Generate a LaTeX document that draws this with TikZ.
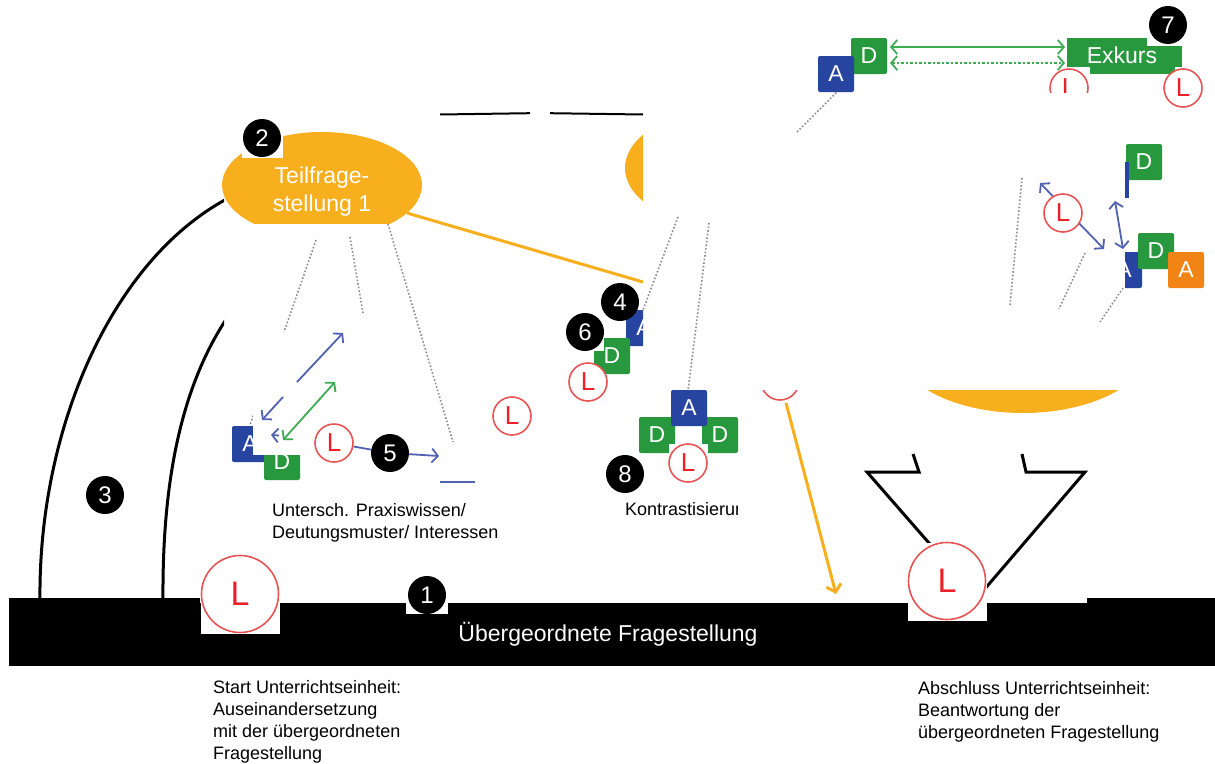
\documentclass[tikz,border=0pt]{standalone}
\usepackage{fontspec}
\setmainfont{Liberation Sans}
\usetikzlibrary{arrows.meta}
\definecolor{orF}{RGB}{247,175,30}
\definecolor{blueB}{RGB}{38,68,160}
\definecolor{greenB}{RGB}{40,152,62}
\definecolor{orB}{RGB}{242,132,22}
\definecolor{blueA}{RGB}{82,98,178}
\definecolor{greenA}{RGB}{62,172,82}
\definecolor{Lring}{RGB}{232,84,84}
\definecolor{Lred}{RGB}{236,32,40}
\definecolor{dotG}{RGB}{140,140,140}
\begin{document}
\begin{tikzpicture}[x=1pt,y=-1pt,
 badge/.style={circle,fill=black,text=white,minimum size=38pt,inner sep=0pt,font=\fontsize{24}{24}\selectfont},
 lcirc/.style={circle,draw=Lring,line width=1.6pt,fill=white,text=Lred,minimum size=38pt,inner sep=0pt,font=\fontsize{26}{26}\selectfont},
 bigl/.style={lcirc,minimum size=77pt,font=\fontsize{34}{34}\selectfont},
 sq/.style={rectangle,rounded corners=2pt,text=white,minimum size=36pt,inner sep=0pt,font=\fontsize{23}{23}\selectfont},
 boxA/.style={sq,fill=blueB}, boxD/.style={sq,fill=greenB}, boxO/.style={sq,fill=orB},
 dots/.style={dotG,line width=1.6pt,dash pattern=on 1.6pt off 2pt},
 barr/.style={blueA,line width=1.8pt},
 garr/.style={greenA,line width=1.8pt},
 oarr/.style={orF,line width=3pt},
 outl/.style={black,line width=3pt,line join=miter},
 txt/.style={font=\fontsize{18}{22}\selectfont,align=left,inner sep=0pt},
 >={Straight Barb[length=6pt,width=14pt]}]
\useasboundingbox (0,0) rectangle (1215,763);
\fill[white] (0,0) rectangle (1215,763);

% left leg of the arch
\begin{scope}
\clip (0,0) rectangle (224,610);
\draw[outl,fill=white] (40,600) .. controls (38,420) and (120,240) .. (250,188)
  -- (240,300) .. controls (185,370) and (162,470) .. (163,600) -- cycle;
\end{scope}
% top fragments of the arch
\draw[black,line width=2pt] (440,114.5) -- (530,113.2);
\draw[black,line width=2pt] (550,113.2) -- (643,114.5);

% Teilfragestellung 1
\begin{scope}
\clip (0,0) rectangle (1215,223);
\fill[orF] (322,185) ellipse [x radius=100, y radius=53];
\end{scope}
\node[text=white,align=center,font=\fontsize{23}{28}\selectfont] (t1) at (322,192) {Teilfrage-\\stellung 1};
% second ellipse (hidden part)
\begin{scope}
\clip (0,0) rectangle (643,400);
\fill[orF] (725,168) ellipse [x radius=100, y radius=58];
\end{scope}
\coordinate (o1s) at (407,213);
\coordinate (o1e) at (643,282);
\draw[oarr] (o1s) -- (o1e);
% big ellipse bottom
\begin{scope}
\clip (0,390) rectangle (1215,430);
\fill[orF] (1023,342) ellipse [x radius=130, y radius=71];
\end{scope}
% down arrow head
\draw[outl] (913,454) -- (919,472) -- (867,472) -- (977,598) -- (1085,472) -- (1026,472) -- (1022,454);

% black bar
\fill[black] (9,603) rectangle (1215,666);
\fill[black] (9,598) rectangle (200,604);
\fill[black] (1087,598) rectangle (1215,604);
\node[anchor=base,text=white,font=\fontsize{23}{23}\selectfont] (ueb) at (608,641) {Übergeordnete Fragestellung};

% big L circles
\fill[white] (201,556) rectangle (280,634);
\node[bigl] (L1) at (240,594) {L};
\fill[white] (908,543) rectangle (987,621);
\node[bigl] (L2) at (947,581) {L};
\fill[white] (406,576) rectangle (448,614);
\node[badge] (b1) at (427,595) {1};
\fill[white] (242,118) rectangle (283,158);
\node[badge] (b2) at (262,138) {2};
\node[badge] (b3) at (105,495) {3};

% dotted lines
\draw[dots] (316,240) -- (284,332);
\draw[dots] (350,237) -- (363,313);
\draw[dots] (388,224) -- (453,442);
\draw[dots] (258,402) -- (250,425);
\draw[dots] (678,217) -- (643,310);
\draw[dots] (709,223) -- (688,391);
\draw[dots] (797,132) -- (837,92);
\draw[dots] (1022,178) -- (1010,305);
\draw[dots] (1085,253) -- (1059,309);
\draw[dots] (1123,288) -- (1100,322);

% left group
\node[boxA] (a1) at (250,444) {A};
\node[boxD] (d1) at (282,462) {D};
\fill[white] (253,395) rectangle (310,455);
\coordinate (bA1) at (297,382); \coordinate (bA2) at (343,333);
\coordinate (bB1) at (283,397); \coordinate (bB2) at (262,420);
\draw[barr,->] (bA1) -- (bA2);
\draw[barr,->] (bB1) -- (bB2);
\coordinate (gA1) at (283,440); \coordinate (gA2) at (335,382);
\draw[garr,<->] (gA1) -- (gA2);
\coordinate (cA1) at (279,435.5); \coordinate (cA2) at (271,435);
\draw[barr,->] (cA1) -- (cA2);
\node[lcirc] (l1) at (334,443) {L};
\node[badge] (b5) at (390,453) {5};
\coordinate (e5) at (439,456);
\draw[barr] (l1) -- (b5);
\draw[barr,->] (b5) -- (e5);
\coordinate (bl1) at (440,482); \coordinate (bl2) at (475,482);
\draw[blueA,line width=1.2pt] (bl1) -- (bl2);
\fill[white] (487,397) rectangle (532,437);
\node[lcirc] (l2) at (512,416) {L};
\node[txt,anchor=base west] (txt1) at (272,538) {Untersch. Praxiswissen/\\Deutungsmuster/ Interessen};

% middle group
\begin{scope}
\clip (0,0) rectangle (643,400);
\node[boxA] (a2) at (644,328) {A};
\end{scope}
\node[boxD] (d2) at (612,356) {D};
\fill[white] (566,313) rectangle (604,351);
\node[badge] (b6) at (585,332) {6};
\node[badge] (b4) at (620,302) {4};
\node[lcirc] (l3) at (588,382) {L};

% contrast group
\node[boxD] (d3) at (657,435) {D};
\node[boxD] (d4) at (720,435) {D};
\node[boxA] (a3) at (689,408) {A};
\fill[white] (669,444) rectangle (708,483);
\node[lcirc] (l5) at (688,463) {L};
\node[badge] (b8) at (625,474) {8};
\begin{scope}
\clip (600,480) rectangle (737,530);
\node[txt,anchor=base west] (txt2) at (625,515) {Kontrastisierung};
\end{scope}
\begin{scope}
\clip (700,390) rectangle (860,420);
\node[lcirc] (l4) at (780,381) {L};
\end{scope}
\coordinate (oA1) at (786,403); \coordinate (oA2) at (836,594);
\draw[oarr,->,>={Straight Barb[length=7pt,width=15pt]}] (oA1) -- (oA2);

% top group
\node[boxD] (d5) at (869,56) {D};
\node[boxA] (a4) at (836,74) {A};
\coordinate (gt1) at (890,47); \coordinate (gt2) at (1065,47);
\coordinate (gt3) at (890,63); \coordinate (gt4) at (1065,63);
\draw[garr,<->] (gt1) -- (gt2);
\draw[garr,<->,dash pattern=on 2.5pt off 2pt] (gt3) -- (gt4);
\fill[greenB] (1090,60) rectangle (1175,74);
\node[rectangle,fill=greenB,minimum width=115pt,minimum height=29pt,inner sep=0pt] (exb) at (1124.5,52.5) {};
\node[text=white,font=\fontsize{23}{23}\selectfont,inner sep=0pt] (ex) at (1122,55) {Exkurs};
\fill[white] (1147,0) rectangle (1192,46);
\node[badge] (b7) at (1168,25) {7};
\begin{scope}
\clip (1000,60) rectangle (1120,92);
\node[lcirc] (l7) at (1069,88) {L};
\end{scope}
\node[lcirc] (l8) at (1183,88) {L};

% right group
\node[boxD] (d6) at (1144,162) {D};
\fill[blueB] (1125,162) rectangle (1129,198);
\coordinate (rb1) at (1040,183); \coordinate (rb2) at (1104,249);
\draw[barr,<->] (rb1) -- (rb2);
\node[lcirc] (l6) at (1063,213) {L};
\coordinate (rc1) at (1115,201); \coordinate (rc2) at (1123,249);
\draw[barr,<->] (rc1) -- (rc2);
\begin{scope}
\clip (1125,200) rectangle (1215,300);
\node[boxA] (a5) at (1124,270) {A};
\end{scope}
\node[boxD] (d7) at (1156,251) {D};
\node[boxO] (o1) at (1186,270) {A};

% bottom texts
\node[txt,anchor=base west] (txt3) at (213,759) {Start Unterrichtseinheit:\\Auseinandersetzung\\mit der übergeordneten\\Fragestellung};
\node[txt,anchor=base west] (txt4) at (918,738) {Abschluss Unterrichtseinheit:\\Beantwortung der\\übergeordneten Fragestellung};
\end{tikzpicture}
\end{document}
